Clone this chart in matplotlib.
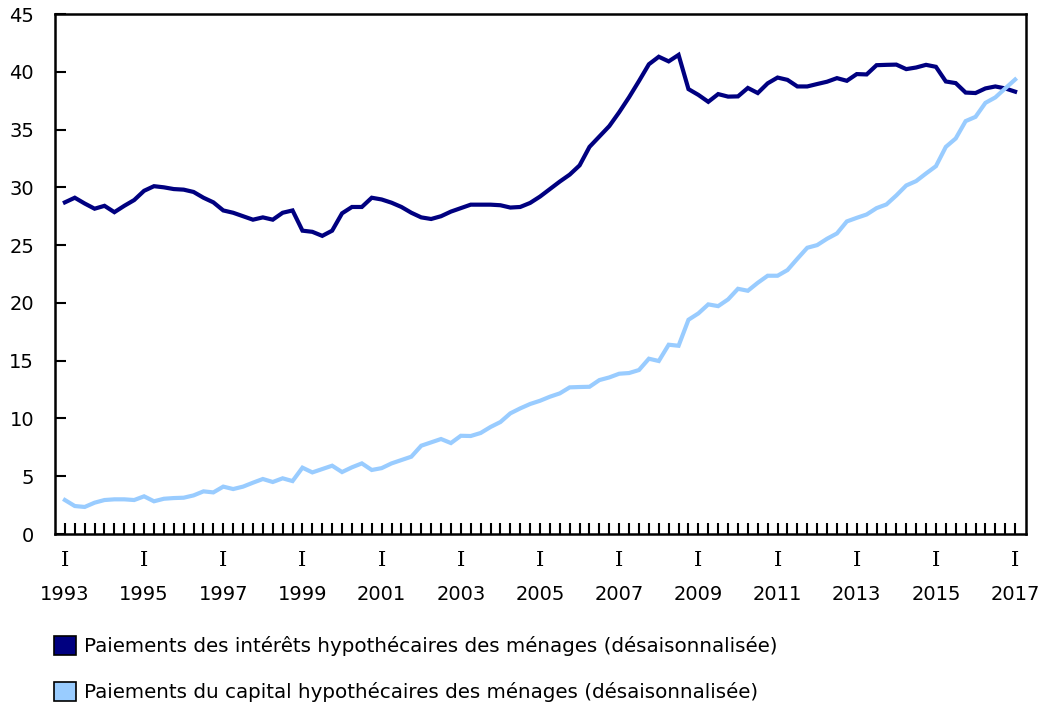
import matplotlib
matplotlib.use("Agg")
import matplotlib.pyplot as plt
from matplotlib.patches import Patch
from matplotlib.ticker import FixedLocator

plt.rcParams['font.family'] = ['DejaVu Sans']

# Quarterly data, 1993 Q1 .. 2017 Q1
start_year = 1993
end_year = 2017
interest = [
    28.7, 29.1, 28.6, 28.15, 28.4, 27.85, 28.4, 28.9, 29.7, 30.1, 30.0, 29.85, 29.8, 29.6, 29.1, 28.7,
    28.0, 27.8, 27.5, 27.2, 27.4, 27.2, 27.8, 28.0, 26.25, 26.15, 25.8, 26.25, 27.75, 28.3, 28.3, 29.1,
    28.95, 28.67, 28.3, 27.8, 27.4, 27.26, 27.5, 27.9, 28.2, 28.5, 28.5, 28.5, 28.45, 28.25, 28.3, 28.65,
    29.2, 29.85, 30.5, 31.1, 31.9, 33.5, 34.4, 35.3, 36.5, 37.8, 39.2, 40.65, 41.3, 40.9, 41.46, 38.5,
    38.0, 37.4, 38.07, 37.85, 37.87, 38.6, 38.16, 39.0, 39.5, 39.3, 38.73, 38.73, 38.94, 39.14, 39.45, 39.22,
    39.8, 39.77, 40.57, 40.6, 40.62, 40.23, 40.37, 40.6, 40.43, 39.16, 39.02, 38.2, 38.16, 38.56, 38.73, 38.56,
    38.28,
]
principal = [
    2.94, 2.42, 2.34, 2.71, 2.94, 3.0, 3.0, 2.94, 3.26, 2.83, 3.05, 3.11, 3.14, 3.34, 3.69, 3.6,
    4.1, 3.89, 4.1, 4.44, 4.76, 4.5, 4.82, 4.58, 5.74, 5.33, 5.62, 5.91, 5.36, 5.77, 6.11, 5.54,
    5.7, 6.11, 6.4, 6.69, 7.64, 7.93, 8.22, 7.87, 8.5, 8.48, 8.74, 9.26, 9.69, 10.44, 10.87, 11.25,
    11.53, 11.88, 12.17, 12.69, 12.72, 12.74, 13.32, 13.55, 13.87, 13.93, 14.19, 15.17, 14.97, 16.38, 16.29, 18.54,
    19.09, 19.87, 19.72, 20.3, 21.22, 21.05, 21.74, 22.35, 22.35, 22.84, 23.82, 24.77, 25.0, 25.55, 26.01, 27.05,
    27.36, 27.65, 28.2, 28.52, 29.3, 30.16, 30.54, 31.2, 31.83, 33.5, 34.23, 35.73, 36.1, 37.31, 37.78, 38.56,
    39.33,
]
series_labels = [
    "Paiements des intérêts hypothécaires des ménages (désaisonnalisée)",
    "Paiements du capital hypothécaires des ménages (désaisonnalisée)",
]
colors = ["#000080", "#99CCFF"]
y_ticks = [0, 5, 10, 15, 20, 25, 30, 35, 40, 45]
label_years = list(range(start_year, end_year + 1, 2))
quarter_label = "I"

x = list(range(len(interest)))

fig = plt.figure(figsize=(10.42, 7.06), dpi=100)
ax = fig.add_axes([55 / 1042, (706 - 534) / 706, (1026 - 55) / 1042, 520 / 706])

ax.plot(x, interest, color=colors[0], lw=3.0, solid_joinstyle='miter')
ax.plot(x, principal, color=colors[1], lw=3.0, solid_joinstyle='miter')

ax.set_xlim(-1.0, 97.1)
ax.set_ylim(0, 45)
ax.set_yticks(y_ticks)
ax.tick_params(axis='y', direction='in', length=8, width=1.5, labelsize=14, pad=15)

major_pos = [(yr - start_year) * 4 for yr in label_years]
ax.set_xticks(major_pos)
ax.set_xticklabels([str(yr) for yr in label_years])
ax.xaxis.set_minor_locator(FixedLocator(x))
ax.tick_params(axis='x', which='both', direction='in', length=8, width=1.5, labelsize=14, pad=37)

for p in major_pos:
    ax.annotate(quarter_label, xy=(p, 0), xycoords=('data', 'axes fraction'),
                xytext=(0, -19), textcoords='offset points', ha='center', va='center',
                fontsize=15, family='DejaVu Serif')

for sp in ax.spines.values():
    sp.set_linewidth(1.8)

handles = [Patch(facecolor=c, edgecolor='black', linewidth=1.2) for c in colors]
fig.legend(handles, series_labels, loc='upper left', bbox_to_anchor=(54 / 1042, 1 - 636 / 706),
           frameon=False, fontsize=14.3, handlelength=1.1, handleheight=1.1, handletextpad=0.4,
           labelspacing=1.3, borderaxespad=0, borderpad=0)

fig.savefig("out.png", dpi=100)
